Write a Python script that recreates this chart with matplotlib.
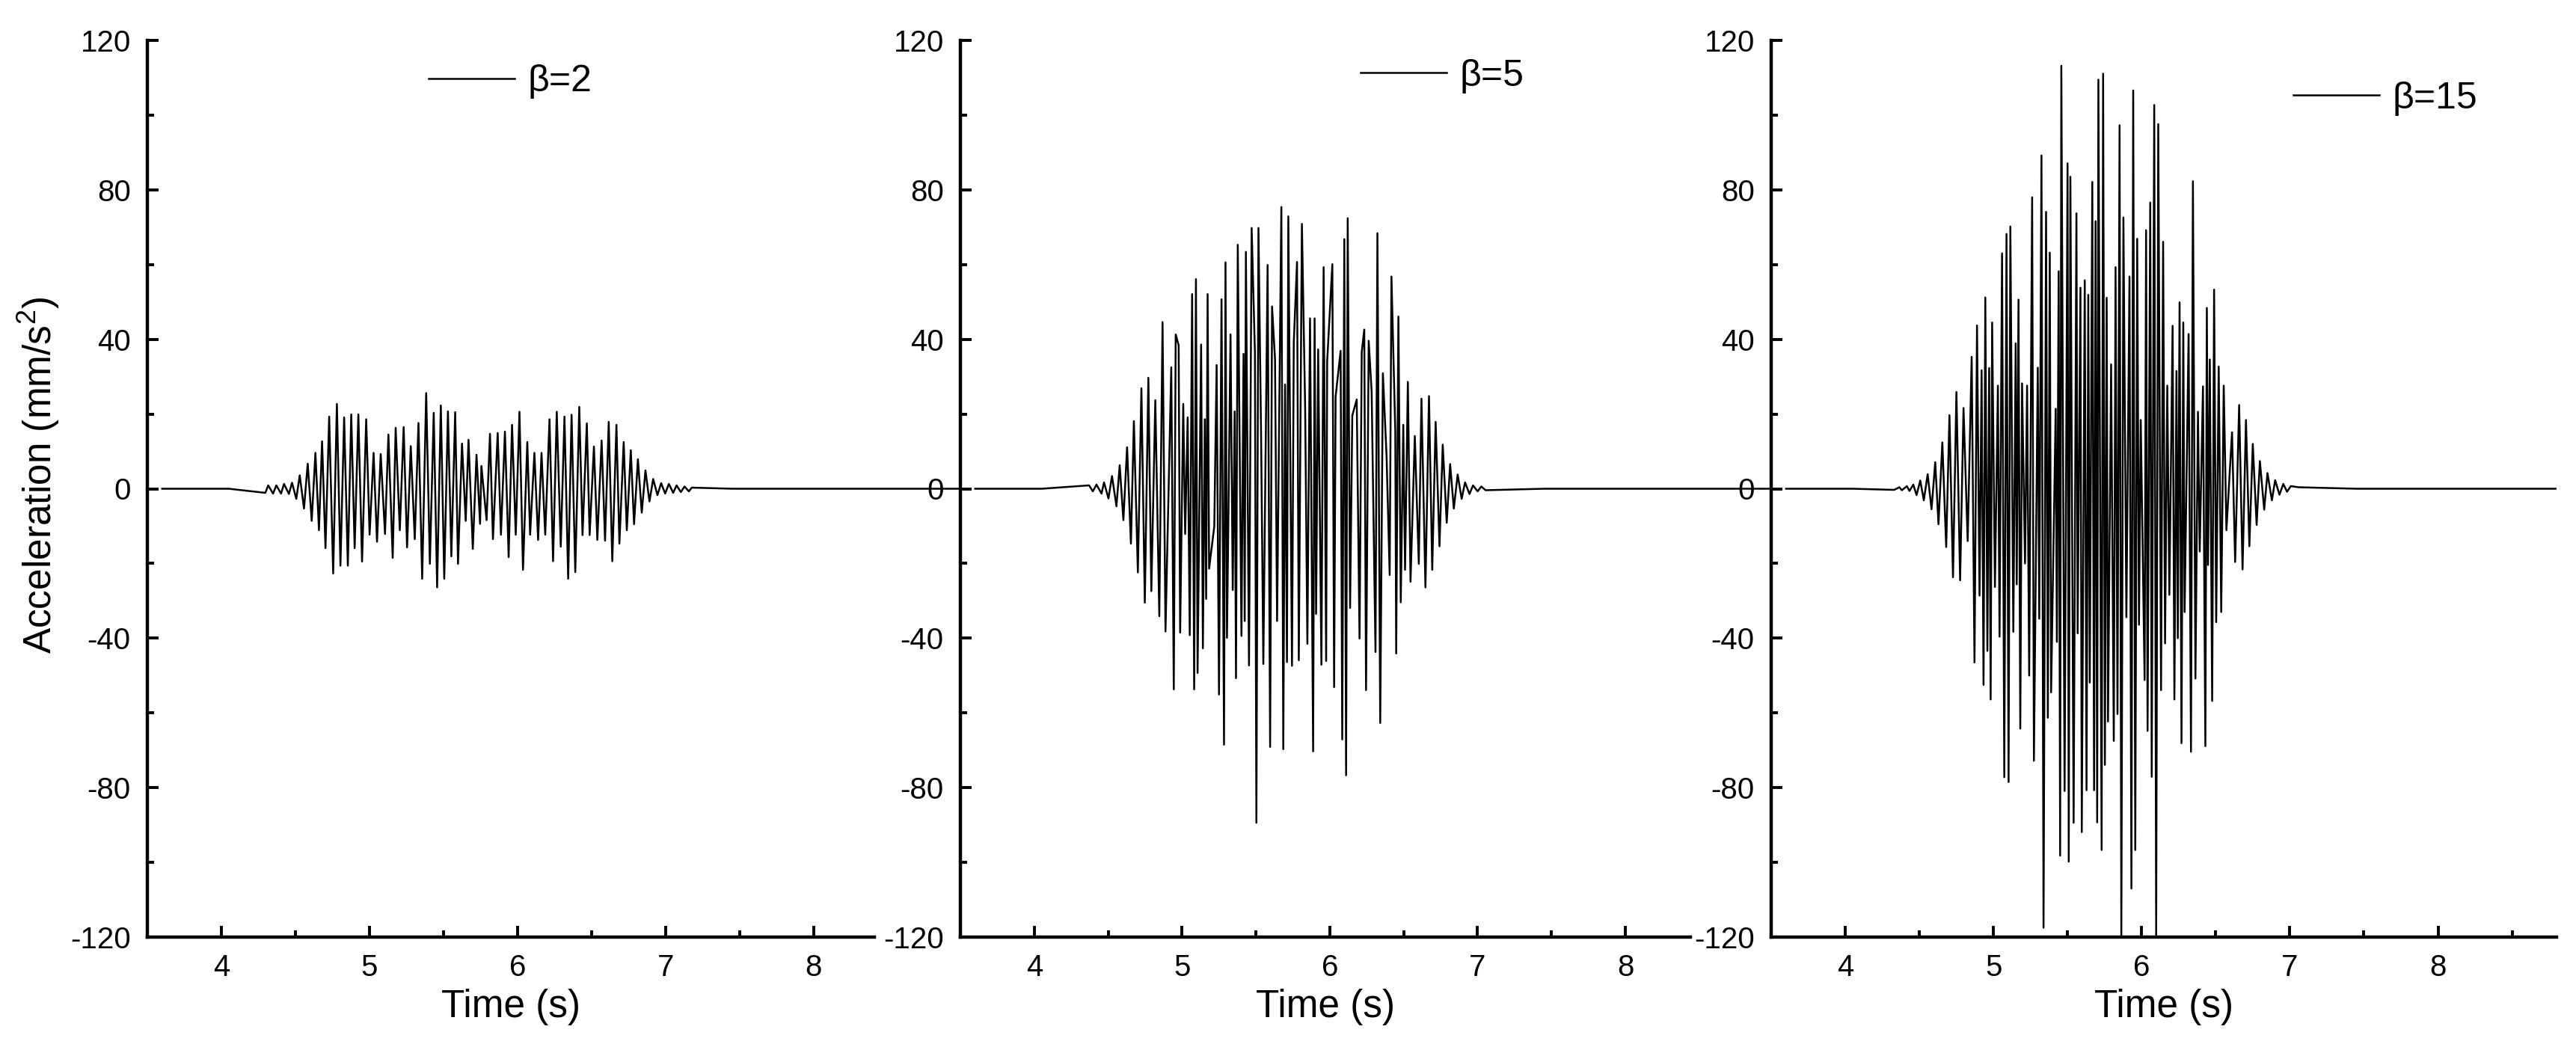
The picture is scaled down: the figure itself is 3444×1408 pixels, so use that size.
import numpy as np
import matplotlib
matplotlib.use("Agg")
import matplotlib.pyplot as plt
from matplotlib.ticker import MultipleLocator

plt.rcParams['font.family'] = ['Liberation Sans', 'DejaVu Sans']
plt.rcParams['mathtext.fontset'] = 'custom'
plt.rcParams['mathtext.rm'] = 'Liberation Sans'
plt.rcParams['axes.unicode_minus'] = False

# flat parts of the traces (zero before the first wiggle and after the last)
t_ends = [3.6, 4.05, 7.45, 9.0]
a_ends = [0.0, 0.0, 0.0, 0.0]

# ---- beta = 2 : peaks and troughs ----
t1_peak = [4.316, 4.371, 4.423, 4.477, 4.529, 4.583, 4.635, 4.680, 4.728, 4.780,
           4.829, 4.877, 4.925, 4.978, 5.028, 5.076, 5.128, 5.177, 5.231, 5.279,
           5.331, 5.383, 5.434, 5.482, 5.530, 5.579, 5.625, 5.669, 5.723, 5.756,
           5.814, 5.866, 5.915, 5.963, 6.013, 6.066, 6.114, 6.162, 6.216, 6.265,
           6.317, 6.365, 6.417, 6.468, 6.516, 6.568, 6.616, 6.668, 6.717, 6.765,
           6.813, 6.864, 6.916, 6.970, 7.022, 7.074, 7.128, 7.177]
a1_peak = [0.9, 0.9, 1.3, 1.6, 3.6, 6.7, 9.6, 12.7, 19.3, 22.7,
           19.1, 19.9, 19.9, 18.6, 9.6, 9.3, 14.5, 16.3, 16.5, 11.4,
           17.6, 25.6, 20.3, 22.3, 20.7, 20.5, 12.1, 13.1, 9.1, 6.1,
           14.7, 14.9, 15.3, 17.1, 20.6, 12.5, 9.6, 9.6, 18.6, 20.6,
           19.3, 19.8, 21.9, 17.5, 11.3, 12.9, 17.9, 17.1, 12.5, 10.3,
           7.9, 4.9, 2.6, 1.5, 1.3, 0.9, 0.6, 0.3]
t1_trough = [4.297, 4.349, 4.403, 4.456, 4.506, 4.558, 4.610, 4.659, 4.703, 4.755,
             4.804, 4.854, 4.900, 4.950, 5.001, 5.051, 5.105, 5.157, 5.205, 5.254,
             5.306, 5.356, 5.408, 5.457, 5.505, 5.553, 5.598, 5.650, 5.698, 5.747,
             5.791, 5.834, 5.888, 5.940, 5.988, 6.037, 6.085, 6.139, 6.187, 6.240,
             6.292, 6.342, 6.390, 6.439, 6.487, 6.539, 6.591, 6.640, 6.688, 6.738,
             6.787, 6.839, 6.891, 6.945, 6.997, 7.051, 7.103, 7.157]
a1_trough = [-1.1, -1.3, -1.3, -1.4, -2.7, -5.3, -8.6, -11.1, -15.9, -22.7,
             -20.6, -20.6, -15.9, -19.5, -12.3, -14.2, -12.1, -18.5, -11.1, -15.7,
             -13.5, -24.1, -20.1, -26.4, -24.1, -18.1, -20.1, -8.6, -16.1, -9.4,
             -8.4, -13.5, -12.3, -18.3, -12.3, -21.7, -12.3, -13.7, -12.3, -19.4,
             -15.5, -24.1, -22.3, -12.4, -12.4, -13.7, -13.9, -19.4, -14.7, -11.1,
             -9.5, -6.4, -3.4, -1.7, -1.3, -1.1, -0.9, -0.7]

# ---- beta = 5 ----
t2_peak = [4.371, 4.421, 4.472, 4.526, 4.578, 4.628, 4.674, 4.725, 4.772, 4.819,
           4.868, 4.927, 4.957, 4.977, 5.008, 5.038, 5.068, 5.094, 5.129, 5.154,
           5.173, 5.234, 5.267, 5.294, 5.328, 5.356, 5.377, 5.416, 5.432, 5.471,
           5.493, 5.517, 5.535, 5.579, 5.609, 5.629, 5.672, 5.697, 5.719, 5.756,
           5.778, 5.811, 5.833, 5.866, 5.897, 5.921, 5.958, 5.982, 6.017, 6.039,
           6.073, 6.098, 6.121, 6.152, 6.182, 6.216, 6.233, 6.263, 6.283, 6.322,
           6.359, 6.384, 6.417, 6.443, 6.464, 6.497, 6.528, 6.575, 6.620, 6.671,
           6.716, 6.764, 6.814, 6.865, 6.915, 6.969, 7.025]
a2_peak = [0.9, 1.1, 1.7, 3.4, 6.3, 11.1, 18.1, 26.9, 29.7, 23.7,
           44.6, 32.5, 41.3, 38.4, 22.7, 19.1, 52.1, 56.1, 38.6, 18.6,
           52.1, 33.1, 50.7, 60.6, 41.3, 20.7, 65.3, 36.1, 63.4, 69.8,
           36.6, 69.8, 13.9, 59.9, 48.8, 34.7, 75.4, 27.9, 72.9, 39.1,
           60.7, 70.9, 21.6, 45.6, 45.6, 37.3, 59.3, 34.1, 60.1, 24.6,
           36.9, 66.8, 72.4, 19.6, 23.9, 36.6, 42.6, 39.6, 25.9, 68.4,
           30.9, 8.7, 56.8, 15.3, 46.1, 17.1, 28.6, 14.1, 24.1, 24.8,
           17.9, 11.8, 6.6, 3.8, 1.7, 0.9, 0.6]
t2_trough = [4.396, 4.455, 4.502, 4.556, 4.603, 4.654, 4.701, 4.748, 4.792, 4.846,
             4.888, 4.944, 4.987, 5.021, 5.052, 5.082, 5.105, 5.141, 5.163, 5.183,
             5.218, 5.250, 5.284, 5.304, 5.343, 5.365, 5.402, 5.424, 5.453, 5.503,
             5.550, 5.596, 5.643, 5.685, 5.710, 5.744, 5.790, 5.848, 5.887, 5.907,
             5.943, 5.975, 6.029, 6.084, 6.110, 6.137, 6.201, 6.245, 6.309, 6.341,
             6.405, 6.449, 6.480, 6.509, 6.546, 6.602, 6.647, 6.693, 6.742, 6.791,
             6.839, 6.892, 6.945, 7.000, 7.054]
a2_trough = [-0.7, -1.3, -2.6, -4.7, -8.4, -14.7, -22.4, -30.5, -27.4, -34.1,
             -38.2, -53.7, -38.5, -12.1, -39.2, -53.7, -49.3, -42.7, -29.5, -21.4,
             -10.1, -55.1, -68.5, -39.9, -27.1, -50.7, -39.4, -35.4, -47.3, -89.4,
             -46.9, -69.1, -35.4, -69.7, -46.4, -47.4, -45.9, -41.5, -70.3, -33.5,
             -47.1, -46.1, -53.1, -67.1, -76.7, -31.9, -40.1, -53.9, -43.7, -62.7,
             -23.1, -44.1, -30.4, -21.7, -24.9, -20.1, -26.4, -21.7, -15.4, -9.1,
             -5.3, -2.7, -1.4, -0.7, -0.4]

# ---- beta = 15 ----
t3_peak = [4.365, 4.416, 4.459, 4.506, 4.556, 4.607, 4.655, 4.703, 4.750, 4.798,
           4.853, 4.889, 4.920, 4.945, 4.971, 4.991, 5.030, 5.058, 5.088, 5.114,
           5.150, 5.169, 5.193, 5.227, 5.261, 5.299, 5.324, 5.355, 5.380, 5.420,
           5.440, 5.458, 5.500, 5.519, 5.560, 5.587, 5.616, 5.640, 5.667, 5.689,
           5.708, 5.740, 5.764, 5.794, 5.824, 5.851, 5.877, 5.918, 5.943, 5.970,
           5.994, 6.030, 6.058, 6.085, 6.112, 6.145, 6.173, 6.209, 6.235, 6.256,
           6.281, 6.317, 6.346, 6.380, 6.414, 6.440, 6.460, 6.489, 6.520, 6.554,
           6.610, 6.658, 6.704, 6.750, 6.798, 6.849, 6.901, 6.956, 7.007, 7.058]
a3_peak = [0.4, 0.7, 1.1, 2.2, 3.9, 7.1, 12.4, 19.7, 25.9, 21.6,
           35.3, 43.7, 31.7, 51.2, 32.3, 44.5, 27.6, 63.0, 68.2, 70.2,
           38.9, 50.6, 28.2, 27.6, 78.0, 32.4, 89.2, 74.1, 63.2, 21.4,
           58.2, 113.2, 87.1, 83.5, 73.7, 53.8, 55.8, 51.9, 82.1, 71.6,
           109.5, 111.1, 51.1, 33.3, 59.3, 97.3, 72.6, 56.8, 106.6, 66.9,
           18.4, 69.2, 76.6, 102.7, 97.6, 66.1, 27.6, 43.6, 31.5, 49.9,
           44.5, 41.4, 82.3, 20.6, 27.4, 48.4, 34.6, 53.3, 32.7, 27.6,
           15.1, 22.4, 18.4, 12.0, 7.4, 4.2, 2.3, 1.3, 0.7, 0.4]
t3_trough = [4.330, 4.382, 4.433, 4.481, 4.530, 4.582, 4.629, 4.681, 4.727, 4.775,
             4.826, 4.872, 4.906, 4.933, 4.959, 4.981, 5.010, 5.041, 5.073, 5.102,
             5.134, 5.157, 5.181, 5.213, 5.241, 5.273, 5.309, 5.338, 5.367, 5.389,
             5.428, 5.450, 5.480, 5.508, 5.541, 5.568, 5.596, 5.628, 5.650, 5.679,
             5.700, 5.730, 5.752, 5.773, 5.812, 5.837, 5.863, 5.897, 5.931, 5.957,
             5.982, 6.020, 6.040, 6.068, 6.098, 6.131, 6.158, 6.187, 6.221, 6.244,
             6.269, 6.290, 6.333, 6.363, 6.392, 6.430, 6.448, 6.476, 6.503, 6.537,
             6.572, 6.631, 6.681, 6.727, 6.776, 6.827, 6.879, 6.930, 6.981]
a3_trough = [-0.3, -0.4, -0.6, -1.7, -3.1, -5.5, -9.5, -15.6, -23.7, -24.5,
             -14.0, -46.5, -28.6, -52.5, -43.4, -56.4, -26.3, -39.6, -77.2, -78.5,
             -38.3, -25.6, -64.2, -20.0, -50.0, -72.8, -34.8, -117.5, -61.3, -54.5,
             -41.0, -98.2, -80.9, -99.8, -89.4, -38.7, -91.9, -80.7, -51.9, -80.7,
             -89.3, -96.7, -73.9, -62.3, -67.5, -60.3, -119.5, -34.4, -107.0, -96.7,
             -36.4, -51.2, -64.8, -77.1, -119.5, -53.9, -41.4, -28.4, -56.4, -40.0,
             -68.1, -33.0, -70.4, -50.8, -16.8, -68.9, -20.4, -56.8, -35.7, -33.0,
             -11.1, -19.6, -21.6, -15.4, -9.7, -5.6, -3.1, -1.6, -0.8]

labels = ['\u03b2=2', '\u03b2=5', '\u03b2=15']


def trace(tp, ap, tt, at):
    t = np.concatenate([t_ends, tp, tt])
    a = np.concatenate([a_ends, ap, at])
    o = np.argsort(t)
    return t[o], a[o]


series = [trace(t1_peak, a1_peak, t1_trough, a1_trough),
          trace(t2_peak, a2_peak, t2_trough, a2_trough),
          trace(t3_peak, a3_peak, t3_trough, a3_trough)]

fig = plt.figure(figsize=(34.44, 14.08), dpi=100)
W, H = 3444.0, 1408.0
# axes boxes in pixels: left, right
boxes = [(197, 1169), (1284, 2260), (2368, 3418)]
xmax = [8.41, 8.44, 8.8]
leg_pos = [(0.387, 0.954), (0.548, 0.960), (0.665, 0.935)]

for i in range(3):
    l, r = boxes[i]
    ax = fig.add_axes([l / W, (H - 1253) / H, (r - l) / W, 1199 / H])
    t, a = series[i]
    ln, = ax.plot(t, a, color='black', lw=1.8, clip_on=(i == 2))
    ax.set_xlim(3.5, xmax[i])
    ax.set_ylim(-120, 120)
    ax.xaxis.set_major_locator(MultipleLocator(1))
    ax.xaxis.set_minor_locator(MultipleLocator(0.5))
    ax.yaxis.set_major_locator(MultipleLocator(40))
    ax.yaxis.set_minor_locator(MultipleLocator(20))
    for s in ['top', 'right']:
        ax.spines[s].set_visible(False)
    for s in ['left', 'bottom']:
        ax.spines[s].set_linewidth(3.2)
    ax.tick_params(which='major', direction='in', length=11, width=2.8,
                   labelsize=29, pad=16)
    ax.tick_params(which='minor', direction='in', length=6.5, width=2.8)
    ax.set_xlabel('Time (s)', fontsize=37, labelpad=6)
    if i == 0:
        ax.set_ylabel('Acceleration (mm/s$^2$)', fontsize=37)
        ax.yaxis.set_label_coords(-0.118, 0.515)
    ax.patch.set_alpha(0)
    ax.legend([ln], [labels[i]], loc='center left', bbox_to_anchor=leg_pos[i],
              frameon=False, fontsize=36, handlelength=2.3, handletextpad=0.35,
              borderpad=0, borderaxespad=0)

fig.savefig('out.png', dpi=100)
